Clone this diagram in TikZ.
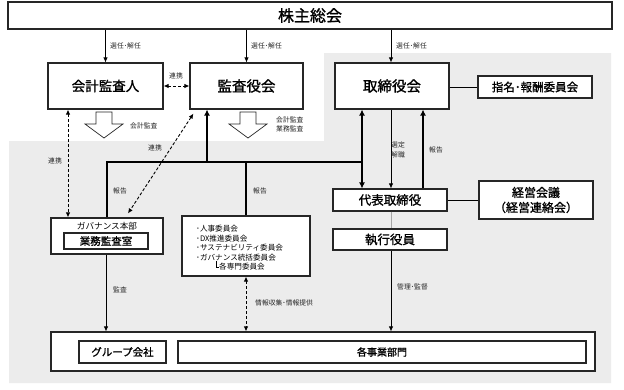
\documentclass[tikz,border=0pt]{standalone}
\usepackage{fontspec}
\setmainfont{Noto Sans CJK JP}[BoldFont={Noto Sans CJK JP}, BoldFeatures={FakeBold=1.2}]
\usetikzlibrary{arrows.meta,calc}
\begin{document}
\begin{tikzpicture}[x=1pt,y=-1pt,
  box/.style={draw=black!85, line width=1.1pt, fill=white, inner sep=0pt, align=center},
  lbl/.style={font=\fontsize{6.8}{9.5}\selectfont, text=black!85, inner sep=0pt, align=left},
  cl/.style={font=\fontsize{7.6}{9}\selectfont, inner sep=0pt, anchor=west},
  arr/.style={-{Latex[length=5pt,width=4.5pt]}, line width=0.8pt},
  thk/.style={line width=2.4pt},
  thkarr/.style={thk, -{Latex[length=6pt,width=6pt]}},
  thkboth/.style={thk, {Latex[length=6pt,width=6pt]}-{Latex[length=6pt,width=6pt]}},
  dsh/.style={{Latex[length=5pt,width=4.5pt]}-{Latex[length=5pt,width=4.5pt]}, dash pattern=on 3pt off 2pt, line width=0.9pt},
  hollow/.style={draw=black!85, line width=0.7pt, fill=white}
]
\useasboundingbox (0,0) rectangle (624,389);
\fill[white] (0,0) rectangle (624,389);
% gray background
\fill[gray!15] (9,141) -- (324,141) -- (324,53) -- (611,53) -- (611,383) -- (9,383) -- cycle;

% column coordinates
\coordinate (x68) at (68,0);
\coordinate (x207) at (207,0);
\coordinate (x362) at (362,0);
\coordinate (x391) at (391,0);
\coordinate (x423) at (423,0);
\coordinate (bus) at (0,162);

% nodes
\node[box, minimum width=604pt, minimum height=27pt, font=\fontsize{16}{16}\selectfont\bfseries] (shu) at (310,15.5) {株主総会};
\node[box, minimum width=115pt, minimum height=46pt, font=\fontsize{13.5}{14}\selectfont\bfseries] (kai) at (105.5,86) {会計監査人};
\node[box, minimum width=113pt, minimum height=46pt, font=\fontsize{14.5}{15}\selectfont\bfseries] (kan) at (246.5,86) {監査役会};
\node[box, minimum width=114pt, minimum height=46pt, font=\fontsize{14.5}{15}\selectfont\bfseries] (tor) at (392,86) {取締役会};
\node[box, minimum width=114pt, minimum height=22pt, font=\fontsize{11.5}{12}\selectfont\bfseries] (shi) at (535,87) {指名･報酬委員会};
\node[box, minimum width=114pt, minimum height=22pt, font=\fontsize{12.5}{13}\selectfont\bfseries] (dai) at (390,200) {代表取締役};
\node[box, minimum width=114pt, minimum height=38pt, font=\fontsize{12}{15}\selectfont\bfseries] (kei) at (536,200) {経営会議\\（経営連絡会）};
\node[box, minimum width=114pt, minimum height=21pt, font=\fontsize{12.5}{13}\selectfont\bfseries] (shk) at (390,239.5) {執行役員};
\node[box, minimum width=112pt, minimum height=36pt] (gov) at (107,236) {};
\node[inner sep=0pt, font=\fontsize{8.6}{9}\selectfont] (govt) at (107,226.5) {ガバナンス本部};
\node[box, minimum width=84pt, minimum height=16pt, font=\fontsize{10.5}{11}\selectfont\bfseries] (gyo) at (106,241) {業務監査室};
\node[box, minimum width=128pt, minimum height=60pt] (com) at (246,246) {};
\node[cl] (c1) at (196,229) {･人事委員会};
\node[cl] (c2) at (196,238.5) {･DX推進委員会};
\node[cl] (c3) at (196,248) {･サステナビリティ委員会};
\node[cl] (c4) at (196,257.5) {･ガバナンス統括委員会};
\node[cl] (c5) at (219,267) {各専門委員会};
\node[box, minimum width=544pt, minimum height=39pt] (big) at (323,351.5) {};
\node[box, minimum width=87pt, minimum height=22pt, font=\fontsize{10.5}{11}\selectfont\bfseries] (grp) at (122.5,352) {グループ会社};
\node[box, minimum width=408pt, minimum height=22pt, font=\fontsize{10}{11}\selectfont\bfseries] (jig) at (382,352) {各事業部門};

% bracket for 各専門委員会
\draw[line width=0.6pt] ($(c5.west)+(-0.5,0)$) -- ++(-2.5,0) -- ++(0,-6);

% appointment arrows
\draw[arr] (kai.north |- shu.south) -- (kai.north);
\draw[arr] (kan.north |- shu.south) -- (kan.north);
\draw[arr] (x391 |- shu.south) -- (x391 |- tor.north);
\node[lbl, anchor=west] (l1) at (110,46) {選任･解任};
\node[lbl, anchor=west] (l2) at (251,46) {選任･解任};
\node[lbl, anchor=west] (l3) at (396,46) {選任･解任};

% cooperation
\draw[dsh] (kai.east) -- (kan.west);
\node[lbl] (l4) at (176,76) {連携};
\draw[dsh] (kai.south -| x68) -- (gov.north -| x68);
\node[lbl] (l5) at (55,161) {連携};
\draw[dsh] ($(kan.south west)+(4,4)$) -- ($(gov.north)+(21,-4)$);
\node[lbl] (l6) at (155,148) {連携};

% hollow arrows
\draw[hollow] (96,112) -- (112,112) -- (112,124) -- (123,124) -- (104,138) -- (85,124) -- (96,124) -- cycle;
\draw[hollow] (240,112) -- (256,112) -- (256,124) -- (267,124) -- (248,138) -- (229,124) -- (240,124) -- cycle;
\node[lbl, anchor=west] (l7) at (130,126) {会計監査};
\node[lbl, anchor=west] (l8) at (276,124.5) {会計監査\\業務監査};

% report bus
\draw[thk] (gov.north) -- (gov.north |- bus) -- (x362 |- bus);
\draw[thk] (com.north |- bus) -- (com.north);
\draw[thkarr] (x207 |- bus) -- (x207 |- kan.south);
\node[lbl] (l9) at (120,191) {報告};
\node[lbl] (l10) at (260,191) {報告};

% board <-> representative director
\draw[thkboth] (x362 |- tor.south) -- (x362 |- dai.north);
\draw[arr] (x391 |- tor.south) -- (x391 |- dai.north);
\draw[thkarr] (x423 |- dai.north) -- (x423 |- tor.south);
\node[lbl, align=center] (l11) at (398,150) {選定\\解職};
\node[lbl] (l12) at (436,150) {報告};

% side links
\draw[line width=0.9pt] (tor.east |- shi.west) -- (shi.west);
\draw[line width=0.9pt] (dai.east) -- (kei.west);
\draw[line width=0.9pt, gray!70] (x391 |- dai.south) -- (x391 |- shk.north);

% down to business units
\draw[arr] (x391 |- shk.south) -- (x391 |- big.north);
\node[lbl, anchor=west] (l13) at (397,287) {管理･監督};
\draw[arr] (gov.south -| 106,0) -- (big.north -| 106,0);
\node[lbl] (l14) at (120,290) {監査};
\draw[dsh] (com.south) -- (com.south |- big.north);
\node[lbl, anchor=west] (l15) at (255,303) {情報収集･情報提供};
\end{tikzpicture}
\end{document}
